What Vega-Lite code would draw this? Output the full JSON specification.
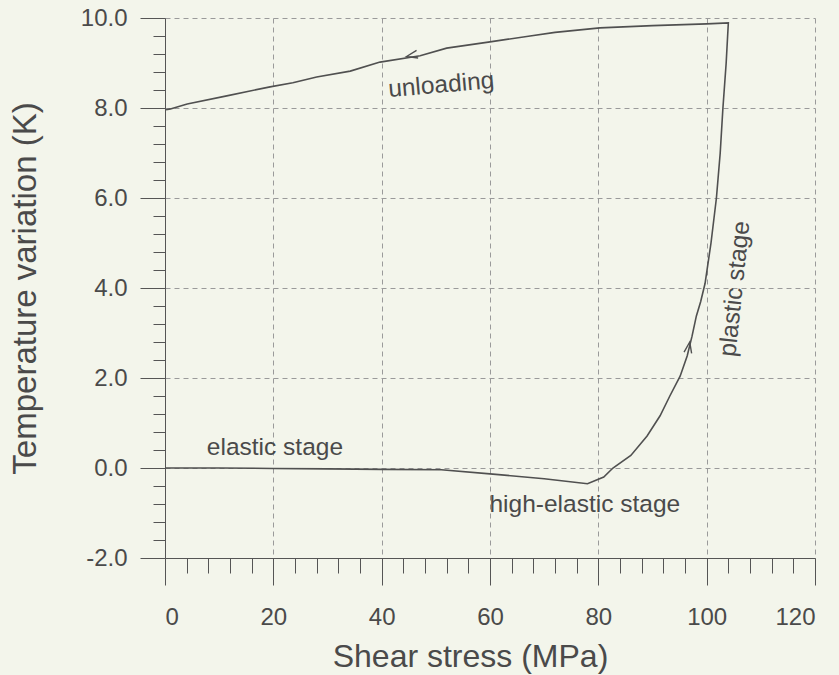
{
  "$schema": "https://vega.github.io/schema/vega-lite/v6.json",
  "width": 650,
  "height": 540,
  "autosize": {"type": "none"},
  "padding": {"left": 165, "top": 18, "right": 24, "bottom": 117},
  "background": "#f3f5eb",
  "config": {
    "view": {"stroke": null},
    "font": "Liberation Sans",
    "axis": {
      "domainColor": "#555555",
      "tickColor": "#555555",
      "labelColor": "#4a4a4a",
      "titleColor": "#4a4a4a",
      "labelFont": "Liberation Sans",
      "titleFont": "Liberation Sans",
      "titleFontWeight": "normal"
    }
  },
  "datasets": {
    "curve": [
      {"i": 1, "s": 0, "t": 0.0},
      {"i": 2, "s": 10, "t": 0.0},
      {"i": 3, "s": 20, "t": -0.01},
      {"i": 4, "s": 30, "t": -0.02},
      {"i": 5, "s": 40, "t": -0.03},
      {"i": 6, "s": 51, "t": -0.04},
      {"i": 7, "s": 60, "t": -0.13},
      {"i": 8, "s": 70, "t": -0.24},
      {"i": 9, "s": 78, "t": -0.35},
      {"i": 10, "s": 81, "t": -0.2},
      {"i": 11, "s": 82.7, "t": 0.0},
      {"i": 12, "s": 86, "t": 0.28},
      {"i": 13, "s": 89, "t": 0.71},
      {"i": 14, "s": 91.4, "t": 1.16},
      {"i": 15, "s": 93.2, "t": 1.6},
      {"i": 16, "s": 95.1, "t": 2.04},
      {"i": 17, "s": 96.4, "t": 2.49},
      {"i": 18, "s": 97.3, "t": 2.93},
      {"i": 19, "s": 98.1, "t": 3.38},
      {"i": 20, "s": 98.9, "t": 3.7},
      {"i": 21, "s": 99.7, "t": 4.1},
      {"i": 22, "s": 100.8, "t": 5.0},
      {"i": 23, "s": 101.8, "t": 6.0},
      {"i": 24, "s": 102.5, "t": 7.0},
      {"i": 25, "s": 103.0, "t": 8.0},
      {"i": 26, "s": 103.6, "t": 9.0},
      {"i": 27, "s": 104.0, "t": 9.89},
      {"i": 28, "s": 100, "t": 9.87},
      {"i": 29, "s": 90, "t": 9.83},
      {"i": 30, "s": 80.3, "t": 9.78},
      {"i": 31, "s": 72, "t": 9.68},
      {"i": 32, "s": 67.4, "t": 9.6},
      {"i": 33, "s": 60, "t": 9.47},
      {"i": 34, "s": 52, "t": 9.33},
      {"i": 35, "s": 47.1, "t": 9.16},
      {"i": 36, "s": 39.7, "t": 9.02},
      {"i": 37, "s": 34.2, "t": 8.82},
      {"i": 38, "s": 28, "t": 8.69},
      {"i": 39, "s": 23.6, "t": 8.56},
      {"i": 40, "s": 19.4, "t": 8.47},
      {"i": 41, "s": 11.4, "t": 8.27},
      {"i": 42, "s": 4.1, "t": 8.09},
      {"i": 43, "s": 1.0, "t": 7.98},
      {"i": 44, "s": 0.2, "t": 7.96}
    ],
    "labels": [
      {"label": "unloading", "s": 51.0, "t": 8.5, "angle": 355},
      {"label": "elastic stage", "s": 20.3, "t": 0.45, "angle": 0},
      {"label": "high-elastic stage", "s": 77.5, "t": -0.82, "angle": 0},
      {"label": "plastic stage", "s": 105.3, "t": 3.98, "angle": 276}
    ],
    "arrows": [
      {"s": 45.6, "t": 9.17, "angle": 348},
      {"s": 96.7, "t": 2.68, "angle": 100}
    ],
    "minor": [{"s": 0, "t": 0}]
  },
  "layer": [
    {
      "data": {"name": "curve"},
      "mark": {"type": "line", "color": "#505050", "strokeWidth": 1.6},
      "encoding": {
        "x": {
          "field": "s", "type": "quantitative",
          "scale": {"domain": [0, 120], "nice": false, "zero": false},
          "axis": {
            "title": "Shear stress (MPa)",
            "values": [0, 20, 40, 60, 80, 100, 120],
            "format": "d",
            "tickSize": 27,
            "labelFontSize": 24,
            "labelPadding": 20,
            "titleFontSize": 32,
            "titlePadding": 12,
            "titleX": 305,
            "grid": true,
            "gridColor": "#9a9a9a",
            "gridDash": [5, 4],
            "gridWidth": 1
          }
        },
        "y": {
          "field": "t", "type": "quantitative",
          "scale": {"domain": [-2, 10], "nice": false, "zero": false},
          "axis": {
            "title": "Temperature variation (K)",
            "values": [-2, 0, 2, 4, 6, 8, 10],
            "format": ".1f",
            "labelExpr": "replace(datum.label, '\u2212', '-')",
            "tickSize": 25,
            "labelFontSize": 24,
            "labelPadding": 13,
            "titleFontSize": 33,
            "titlePadding": 38,
            "grid": true,
            "gridColor": "#9a9a9a",
            "gridDash": [5, 4],
            "gridWidth": 1
          }
        },
        "order": {"field": "i", "type": "quantitative"}
      }
    },
    {
      "data": {"name": "minor"},
      "mark": {"type": "point", "opacity": 0},
      "encoding": {
        "x": {
          "field": "s", "type": "quantitative",
          "scale": {"domain": [0, 120], "nice": false, "zero": false},
          "axis": {
            "orient": "bottom",
            "title": null,
            "values": [4, 8, 12, 16, 24, 28, 32, 36, 44, 48, 52, 56, 64, 68, 72, 76, 84, 88, 92, 96, 104, 108, 112, 116],
            "labels": false,
            "domain": false,
            "grid": false,
            "tickSize": 15
          }
        },
        "y": {
          "field": "t", "type": "quantitative",
          "scale": {"domain": [-2, 10], "nice": false, "zero": false},
          "axis": {
            "orient": "left",
            "title": null,
            "values": [-1.6, -1.2, -0.8, -0.4, 0.4, 0.8, 1.2, 1.6, 2.4, 2.8, 3.2, 3.6, 4.4, 4.8, 5.2, 5.6, 6.4, 6.8, 7.2, 7.6, 8.4, 8.8, 9.2, 9.6],
            "labels": false,
            "domain": false,
            "grid": false,
            "tickSize": 12
          }
        }
      }
    },
    {
      "data": {"name": "labels"},
      "mark": {"type": "text", "font": "Liberation Sans", "fontSize": 24.5, "color": "#4a4a4a", "align": "center", "baseline": "middle"},
      "encoding": {
        "x": {"field": "s", "type": "quantitative", "scale": {"domain": [0, 120], "nice": false, "zero": false}, "axis": null},
        "y": {"field": "t", "type": "quantitative", "scale": {"domain": [-2, 10], "nice": false, "zero": false}, "axis": null},
        "text": {"field": "label"},
        "angle": {"field": "angle", "type": "quantitative", "scale": null}
      }
    },
    {
      "data": {"name": "arrows"},
      "mark": {"type": "point", "shape": "M 1 -0.7 L -1 0 L 1 0.7", "filled": false, "stroke": "#505050", "strokeWidth": 1.4, "size": 120, "opacity": 1},
      "encoding": {
        "x": {"field": "s", "type": "quantitative", "scale": {"domain": [0, 120], "nice": false, "zero": false}, "axis": null},
        "y": {"field": "t", "type": "quantitative", "scale": {"domain": [-2, 10], "nice": false, "zero": false}, "axis": null},
        "angle": {"field": "angle", "type": "quantitative", "scale": null}
      }
    }
  ],
  "resolve": {"axis": {"x": "independent", "y": "independent"}}
}
